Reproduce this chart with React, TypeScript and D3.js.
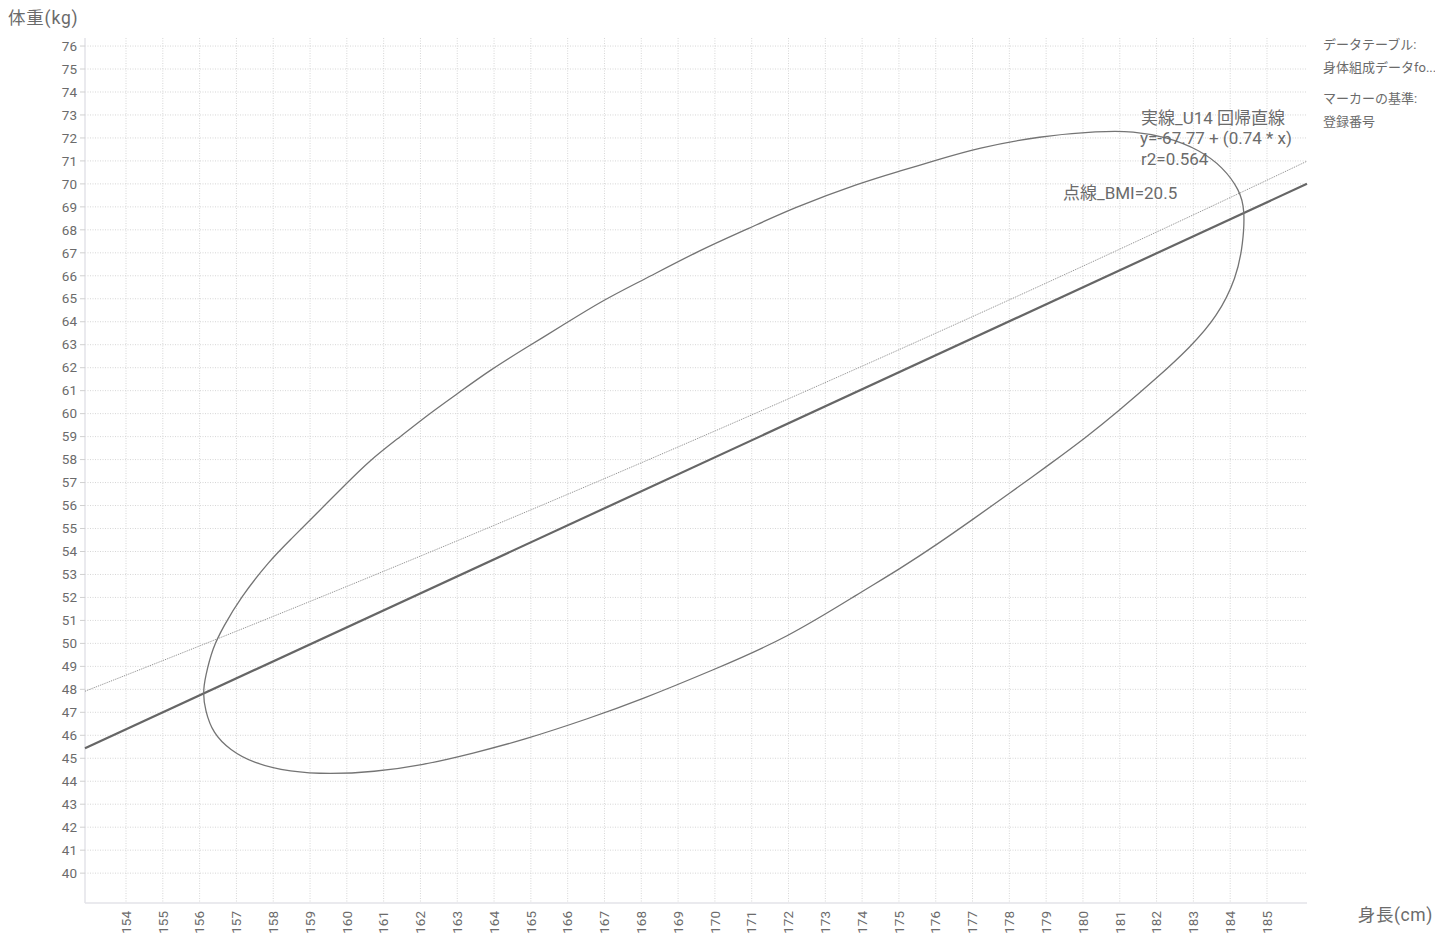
import React from "react";
import * as d3 from "d3";

const W = 1435;
const H = 933;

const xTicks: number[] = d3.range(154, 186);
const yTicks: number[] = d3.range(40, 77);
const xDomain: [number, number] = [152.886, 186.087];
const yDomain: [number, number] = [38.7, 76.35];

// regression: y = intercept + slope * x
const regIntercept = -67.7;
const regSlope = 0.74;
const bmiValue = 20.5;

// ellipse outline points [height, weight]
const ellipseHeights = [
  156.09, 156.15, 156.36, 156.83, 157.45, 158.46, 159.54, 160.71, 162.07, 163.43,
  164.79, 166.61, 167.96, 169.95, 171.96, 173.97, 175.03, 176.03, 177.01, 178.02,
  179.10, 180.11, 180.92, 182.01, 182.92, 183.64, 184.18, 184.35, 184.40, 184.26,
  183.80, 183.18, 182.28, 181.36, 180.46, 178.83, 177.12, 176.03, 175.03, 173.94,
  172.12, 170.95, 169.59, 168.04, 166.96, 165.79, 164.98, 163.89, 162.99, 162.26,
  161.44, 160.63, 159.89, 159.19, 158.46, 157.91, 157.10, 156.64, 156.36, 156.15,
];
const ellipseWeights = [
  47.84, 47.10, 46.09, 45.35, 44.79, 44.40, 44.31, 44.40, 44.70, 45.22,
  45.79, 46.75, 47.53, 48.84, 50.23, 52.23, 53.25, 54.30, 55.40, 56.55,
  57.80, 59.00, 60.05, 61.55, 62.90, 64.20, 65.94, 67.42, 68.86, 69.73,
  70.73, 71.47, 72.04, 72.30, 72.30, 72.08, 71.56, 71.04, 70.56, 70.04,
  68.95, 68.08, 67.12, 65.81, 64.94, 63.77, 62.98, 61.90, 60.85, 60.02,
  58.98, 57.98, 56.80, 55.67, 54.50, 53.62, 51.97, 50.71, 49.84, 48.53,
];

const legendLines = ["データテーブル:", "身体組成データfo...", "マーカーの基準:", "登録番号"];
const annotationLines = ["実線_U14 回帰直線", "y=-67.77 + (0.74 * x)", "r2=0.564"];
const bmiLabel = "点線_BMI=20.5";

const FONT = "Roboto, 'Noto Sans CJK JP', sans-serif";
const TEXT = "#6b6b6b";

export default function App() {
  const left = 85;
  const right = 1307;
  const top = 38;
  const bottom = 903;
  const x = d3.scaleLinear().domain(xDomain).range([left, right]);
  const y = d3.scaleLinear().domain(yDomain).range([bottom, top]);

  const ellipsePts: [number, number][] = ellipseHeights.map((h, i) => [x(h), y(ellipseWeights[i])]);
  const ellipsePath = d3.line().curve(d3.curveBasisClosed)(ellipsePts) || "";

  const reg = d3.line<number>()
    .x((h) => x(h))
    .y((h) => y(regIntercept + regSlope * h))(xDomain) || "";

  const bmiHeights = d3.range(xDomain[0], xDomain[1] + 0.001, (xDomain[1] - xDomain[0]) / 60);
  const bmi = d3.line<number>()
    .x((h) => x(h))
    .y((h) => y(bmiValue * (h / 100) * (h / 100)))(bmiHeights) || "";

  return (
    <svg width={W} height={H} style={{ position: "absolute", left: 0, top: 0, background: "#fff" }} fontFamily={FONT}>
      {/* grid */}
      <g stroke="#d6d6d6" strokeWidth={1} strokeDasharray="1,1.5">
        {yTicks.map((t) => (
          <line key={"gy" + t} x1={left} x2={right} y1={y(t)} y2={y(t)} />
        ))}
        {xTicks.map((t) => (
          <line key={"gx" + t} x1={x(t)} x2={x(t)} y1={top} y2={bottom} />
        ))}
      </g>
      {/* axes */}
      <line x1={left} x2={left} y1={top} y2={bottom} stroke="#e3e3e8" strokeWidth={1.5} />
      <line x1={left} x2={right} y1={bottom} y2={bottom} stroke="#e3e3e8" strokeWidth={1.5} />
      <g stroke="#d0d0d0" strokeWidth={1}>
        {yTicks.map((t) => (
          <line key={"ty" + t} x1={left - 5} x2={left} y1={y(t)} y2={y(t)} />
        ))}
      </g>
      <g fontSize={13.5} fill={TEXT} textAnchor="end">
        {yTicks.map((t) => (
          <text key={"ly" + t} x={left - 8} y={y(t)} dy="0.35em">{t}</text>
        ))}
      </g>
      <g fontSize={13.5} fill={TEXT} textAnchor="end">
        {xTicks.map((t) => (
          <text key={"lx" + t} transform={`translate(${x(t)},${bottom + 8}) rotate(-90)`} dy="0.35em">{t}</text>
        ))}
      </g>
      {/* titles */}
      <text x={8} y={24} fontSize={17.5} letterSpacing={0.8} fill={TEXT}>体重(kg)</text>
      <text x={1433} y={921} fontSize={17.5} letterSpacing={0.6} fill={TEXT} textAnchor="end">身長(cm)</text>
      {/* legend */}
      <g fontSize={13} fill={TEXT}>
        <text x={1323} y={49}>{legendLines[0]}</text>
        <text x={1323} y={72}>{legendLines[1]}</text>
        <text x={1323} y={103}>{legendLines[2]}</text>
        <text x={1323} y={126}>{legendLines[3]}</text>
      </g>
      {/* lines */}
      <path d={bmi} fill="none" stroke="#8a8a8a" strokeWidth={1} strokeDasharray="1,1" />
      <path d={reg} fill="none" stroke="#666" strokeWidth={2.2} />
      <path d={ellipsePath} fill="none" stroke="#747474" strokeWidth={1.3} />
      {/* annotations */}
      <g fontSize={17} fill={TEXT}>
        <text x={1141} y={124}>{annotationLines[0]}</text>
        <text x={1140} y={144}>{annotationLines[1]}</text>
        <text x={1141} y={165}>{annotationLines[2]}</text>
        <text x={1063} y={199}>{bmiLabel}</text>
      </g>
    </svg>
  );
}
